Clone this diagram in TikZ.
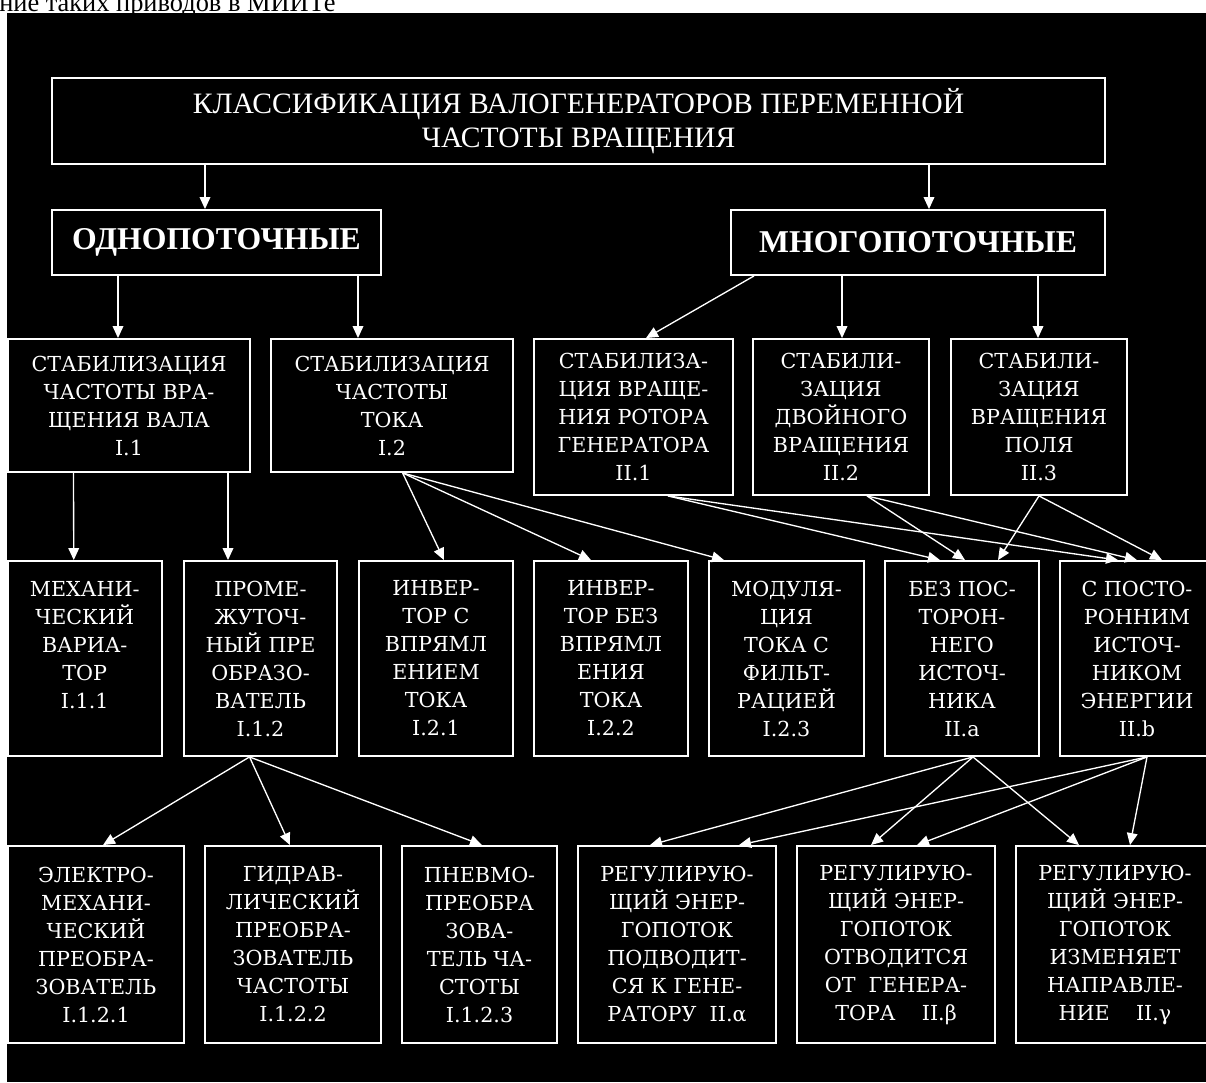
\documentclass[tikz,border=0pt]{standalone}
\usepackage{fontspec}
\setmainfont{Liberation Serif}
\newfontfamily\cellfont{DejaVu Serif}
\usetikzlibrary{arrows.meta, calc, positioning}

\begin{document}
\begin{tikzpicture}[x=0.75pt, y=-0.75pt,
    cell/.style 2 args={draw=white, line width=1.4pt, text=white, align=center, inner sep=0pt,
      minimum width=#1*0.75pt, minimum height=#2*0.75pt, font=\cellfont\fontsize{15.5}{21}\selectfont},
    headcell/.style={cell={1053}{86}, font=\fontsize{22.2}{25.5}\selectfont},
    groupcell/.style={cell={#1}{65}, font=\fontsize{23.8}{28}\selectfont\bfseries},
    arr/.style={draw=white, line width=1pt, -{Triangle[length=9pt,width=8pt]}}]
  \useasboundingbox (0,0) rectangle (1206,1082);
  % фон и обрывок строки над схемой
  \fill[white] (0,0) rectangle (1206,1082);
  \fill[black] (7,12.5) rectangle (1206,1082);
  \node[anchor=base west, inner sep=0pt, font=\fontsize{19.8}{22}\selectfont] (cuttext) at (-1,11) {ние таких приводов в МИИТе};

  % заголовок и две группы
  \node[headcell] (title) at (578.5,121) {КЛАССИФИКАЦИЯ ВАЛОГЕНЕРАТОРОВ ПЕРЕМЕННОЙ\\ЧАСТОТЫ ВРАЩЕНИЯ};
  \node[groupcell=329] (odno) at (216.5,242.5) {ОДНОПОТОЧНЫЕ};
  \node[groupcell=374] (mnogo) at (918,242.5) {МНОГОПОТОЧНЫЕ};

  % второй ряд
  \node[cell={242}{133}] (i1) at (129,405.5) {СТАБИЛИЗАЦИЯ\\ЧАСТОТЫ ВРА-\\ЩЕНИЯ ВАЛА\\I.1};
  \node[cell={242}{133}] (i2) at (392,405.5) {СТАБИЛИЗАЦИЯ\\ЧАСТОТЫ\\ТОКА\\I.2};
  \node[cell={199}{156}] (ii1) at (633.5,417) {СТАБИЛИЗА-\\ЦИЯ ВРАЩЕ-\\НИЯ РОТОРА\\ГЕНЕРАТОРА\\II.1};
  \node[cell={176}{156}] (ii2) at (841,417) {СТАБИЛИ-\\ЗАЦИЯ\\ДВОЙНОГО\\ВРАЩЕНИЯ\\II.2};
  \node[cell={176}{156}] (ii3) at (1039,417) {СТАБИЛИ-\\ЗАЦИЯ\\ВРАЩЕНИЯ\\ПОЛЯ\\II.3};

  % третий ряд
  \node[cell={154}{195}] (i11) at (84.75,658.5) {МЕХАНИ-\\ЧЕСКИЙ\\ВАРИА-\\ТОР\\I.1.1\\\mbox{}};
  \node[cell={153}{195}] (i12) at (260.5,658.5) {ПРОМЕ-\\ЖУТОЧ-\\НЫЙ ПРЕ\\ОБРАЗО-\\ВАТЕЛЬ\\I.1.2};
  \node[cell={154}{195}] (i21) at (436,658.5) {ИНВЕР-\\ТОР С\\ВПРЯМЛ\\ЕНИЕМ\\ТОКА\\I.2.1};
  \node[cell={154}{195}] (i22) at (611,658.5) {ИНВЕР-\\ТОР БЕЗ\\ВПРЯМЛ\\ЕНИЯ\\ТОКА\\I.2.2};
  \node[cell={155}{195}] (i23) at (786.5,658.5) {МОДУЛЯ-\\ЦИЯ\\ТОКА С\\ФИЛЬТ-\\РАЦИЕЙ\\I.2.3};
  \node[cell={154}{195}] (iia) at (962,658.5) {БЕЗ ПОС-\\ТОРОН-\\НЕГО\\ИСТОЧ-\\НИКА\\II.a};
  \node[cell={154}{195}] (iib) at (1137,658.5) {С ПОСТО-\\РОННИМ\\ИСТОЧ-\\НИКОМ\\ЭНЕРГИИ\\II.b};

  % нижний ряд
  \node[cell={176}{197}] (i121) at (96,944.5) {ЭЛЕКТРО-\\МЕХАНИ-\\ЧЕСКИЙ\\ПРЕОБРА-\\ЗОВАТЕЛЬ\\I.1.2.1};
  \node[cell={176}{197}] (i122) at (293,944.5) {ГИДРАВ-\\ЛИЧЕСКИЙ\\ПРЕОБРА-\\ЗОВАТЕЛЬ\\ЧАСТОТЫ\\I.1.2.2};
  \node[cell={155}{197}] (i123) at (479.5,944.5) {ПНЕВМО-\\ПРЕОБРА\\ЗОВА-\\ТЕЛЬ ЧА-\\СТОТЫ\\I.1.2.3};
  \node[cell={198}{197}] (iial) at (677,944.5) {РЕГУЛИРУЮ-\\ЩИЙ ЭНЕР-\\ГОПОТОК\\ПОДВОДИТ-\\СЯ К ГЕНЕ-\\РАТОРУ~~II.α};
  \node[cell={198}{197}] (iibe) at (896,944.5) {РЕГУЛИРУЮ-\\ЩИЙ ЭНЕР-\\ГОПОТОК\\ОТВОДИТСЯ\\ОТ~~ГЕНЕРА-\\ТОРА~~~~II.β};
  \node[cell={198}{197}] (iiga) at (1115,944.5) {РЕГУЛИРУЮ-\\ЩИЙ ЭНЕР-\\ГОПОТОК\\ИЗМЕНЯЕТ\\НАПРАВЛЕ-\\НИЕ~~~~II.γ};

  % стрелки сверху вниз
  \draw[arr] ($(title.south)+(-373.5,0)$) -- ($(odno.north)+(-11.5,0)$);
  \draw[arr] ($(title.south)+(350.5,0)$) -- ($(mnogo.north)+(11,0)$);
  \draw[arr] ($(odno.south)+(-98.5,0)$) -- ($(i1.north)+(-11,0)$);
  \draw[arr] ($(odno.south)+(141.5,0)$) -- ($(i2.north)+(-34,0)$);
  \draw[arr] ($(mnogo.south)+(-164,0)$) -- ($(ii1.north)+(12.5,0)$);
  \draw[arr] ($(mnogo.south)+(-76,0)$) -- ($(ii2.north)+(1,0)$);
  \draw[arr] ($(mnogo.south)+(120,0)$) -- ($(ii3.north)+(-1,0)$);

  \draw[arr] ($(i1.south)+(-55.5,0)$) -- ($(i11.north)+(-11,0)$);
  \draw[arr] ($(i1.south)+(99,0)$) -- ($(i12.north)+(-32.5,0)$);
  \draw[arr] ($(i2.south)+(10.6,0)$) -- ($(i21.north)+(8,0)$);
  \draw[arr] ($(i2.south)+(10.6,0)$) -- ($(i22.north)+(-20,0)$);
  \draw[arr] ($(i2.south)+(10.6,0)$) -- ($(i23.north)+(-62.5,0)$);
  \draw[arr] ($(ii1.south)+(34.5,0)$) -- ($(iia.north)+(-22,0)$);
  \draw[arr] ($(ii1.south)+(34.5,0)$) -- ($(iib.north)+(-19,0)$);
  \draw[arr] ($(ii2.south)+(26,0)$) -- ($(iia.north)+(3,0)$);
  \draw[arr] ($(ii2.south)+(26,0)$) -- (iib.north);
  \draw[arr] (ii3.south) -- ($(iia.north)+(36,0)$);
  \draw[arr] (ii3.south) -- ($(iib.north)+(25,0)$);

  \draw[arr] ($(i12.south)+(-11,0)$) -- ($(i121.north)+(7,0)$);
  \draw[arr] ($(i12.south)+(-11,0)$) -- ($(i122.north)+(-3,0)$);
  \draw[arr] ($(i12.south)+(-11,0)$) -- ($(i123.north)+(2.5,0)$);
  \draw[arr] ($(iia.south)+(11,0)$) -- ($(iial.north)+(-27,0)$);
  \draw[arr] ($(iia.south)+(11,0)$) -- ($(iibe.north)+(-25,0)$);
  \draw[arr] ($(iia.south)+(11,0)$) -- ($(iiga.north)+(-36,0)$);
  \draw[arr] ($(iib.south)+(10,0)$) -- ($(iial.north)+(62,0)$);
  \draw[arr] ($(iib.south)+(10,0)$) -- ($(iibe.north)+(21,0)$);
  \draw[arr] ($(iib.south)+(10,0)$) -- ($(iiga.north)+(15,0)$);
\end{tikzpicture}
\end{document}
